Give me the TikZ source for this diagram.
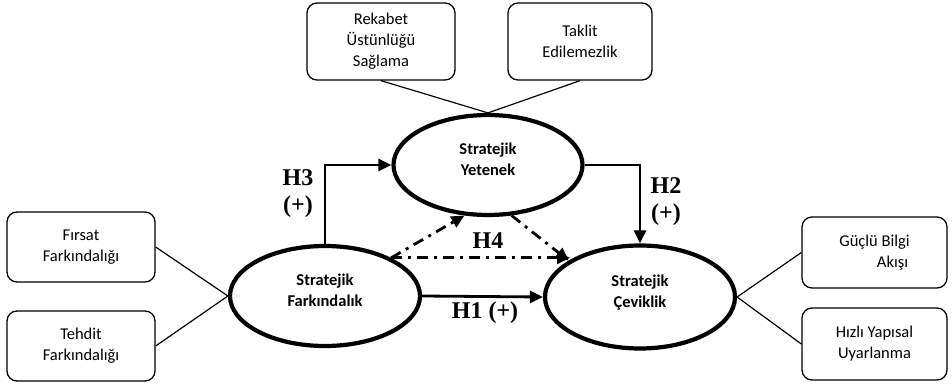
\documentclass[tikz,border=0pt]{standalone}
\usepackage{fontspec}
\setmainfont{Carlito}
\newfontfamily\hfont{Liberation Serif}
\usetikzlibrary{shapes.geometric,arrows.meta}
\begin{document}
\begin{tikzpicture}[x=1pt,y=-1pt,
  ell/.style={ellipse,draw,line width=4.2pt,inner sep=0pt,minimum width=190pt,minimum height=100pt,
     font=\fontsize{16.5}{21}\selectfont\bfseries,align=center},
  rbox/.style={draw,rounded corners=10pt,line width=1.3pt,inner sep=0pt,
     font=\fontsize{16.5}{21}\selectfont,align=center},
  conn/.style={line width=1.2pt},
  arr/.style={line width=2.8pt,-{Triangle[length=13pt,width=12pt]}},
  dd/.style={line width=2.8pt,dash pattern=on 11pt off 6pt on 3pt off 6pt,-{Triangle[length=13pt,width=12pt]}},
  hl/.style={font=\hfont\fontsize{24}{29}\selectfont\bfseries,align=center}]
\useasboundingbox (0,0) rectangle (952,385);
% boxes
\node[rbox,minimum width=148pt,minimum height=77pt] (rek) at (381,41.5) {Rekabet\\Üstünlüğü\\Sağlama};
\node[rbox,minimum width=144pt,minimum height=77pt] (tak) at (580,41.5) {Taklit\\Edilemezlik};
\node[rbox,minimum width=148pt,minimum height=70pt] (fir) at (81,247) {Fırsat\\Farkındalığı};
\node[rbox,minimum width=148pt,minimum height=70pt] (teh) at (81,346) {Tehdit\\Farkındalığı};
\node[rbox,minimum width=145pt,minimum height=71pt] (guc) at (874.5,252.5) {Güçlü Bilgi\\\hspace*{36pt}Akışı};
\node[rbox,minimum width=145pt,minimum height=72pt] (hiz) at (874.5,344) {Hızlı Yapısal\\Uyarlanma};
% ellipses
\node[ell,minimum width=189pt] (yet) at (488,165) {Stratejik\\Yetenek\\[-10pt]};
\node[ell] (fark) at (325,296) {Stratejik\\Farkındalık\\[-10pt]};
\node[ell,minimum height=103pt] (cev) at (640,297) {Stratejik\\Çeviklik\\[-10pt]};
% connectors
\draw[conn] (rek.south) -- (yet.north);
\draw[conn] (tak.south) -- (yet.north);
\draw[conn] (fir.east) -- (fark.west);
\draw[conn] (teh.east) -- (fark.west);
\draw[conn] (guc.west) -- (cev.east);
\draw[conn] (hiz.west) -- (cev.east);
% hypotheses
\draw[arr] (fark.north) |- (yet.west);
\draw[arr] (yet.east) -| (cev.north);
\draw[arr] (fark.east) -- (cev.west);
\draw[dd] (fark.30) -- (yet.245);
\draw[dd] (yet.295) -- (cev.153);
\coordinate (h4s) at (fark.30);
\draw[dd] (h4s) -- (h4s -| cev.152);
% labels
\node[hl] (l3) at (298,178) {H3};
\node[hl] (l3p) at (298,207) {(+)};
\node[hl] (l2) at (666,186) {H2};
\node[hl] (l2p) at (666,215) {(+)};
\node[hl] (l1) at (485,313) {H1 (+)};
\node[hl] (l4) at (488,241) {H4};
\end{tikzpicture}
\end{document}
